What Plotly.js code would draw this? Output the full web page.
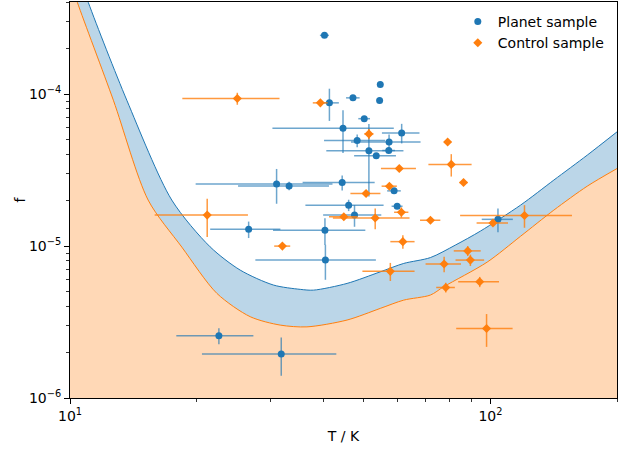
<!DOCTYPE html>
<html>
<head>
<meta charset="utf-8">
<script src="https://cdn.plot.ly/plotly-3.0.1.min.js"></script>
<style>html,body{margin:0;padding:0;background:#fff;}#chart{width:619px;height:449px;}</style>
</head>
<body>
<div id="chart"></div>
<script>
// Upper (planet) detection curve
const upperT = [10, 11.05, 13.65, 17.46, 21.54, 25.4, 30.48, 35.3, 37.96, 45.6, 54.7, 62.2, 71.96, 82.5, 94.7, 117.9, 141.5, 169.9, 200];
const upperF = [9.0e-4, 4.03e-4, 9.13e-5, 2.01e-5, 9.89e-6, 6.95e-6, 5.54e-6, 5.19e-6, 5.13e-6, 5.68e-6, 6.77e-6, 7.69e-6, 8.4e-6, 1.015e-5, 1.256e-5, 1.86e-5, 2.72e-5, 3.97e-5, 5.65e-5];
// Lower (control) curve
const lowerT = [10, 10.41, 12.68, 15.34, 18.45, 22.36, 26.83, 31.62, 36.6, 45.6, 54.7, 62.2, 71.96, 77.4, 98.2, 117.9, 141.5, 169.9, 200];
const lowerF = [5.7e-4, 4.03e-4, 9.13e-5, 2.01e-5, 9.85e-6, 4.88e-6, 3.43e-6, 3.02e-6, 2.94e-6, 3.26e-6, 3.89e-6, 4.41e-6, 4.76e-6, 5.40e-6, 7.84e-6, 1.16e-5, 1.725e-5, 2.48e-5, 3.24e-5];

// Planet sample
const planetT   = [40.3, 54.7, 54.5, 47.1, 41.4, 50.1, 44.6, 61.5, 48.2, 57.4, 51.4, 57.3, 53.5, 31.0, 33.2, 44.4, 59.0, 46.0, 60.0, 47.5, 26.6, 40.4, 40.5, 104.2, 22.6, 31.8];
const planetTerr= [1.0, 0, 0, 1.75, 2.2, 1.6, 14.3, 6.3, 8.0, 10.8, 10.7, 2.0, 6.1, 11.1, 8.1, 8.65, 2.2, 9.7, 1.8, 7.5, 5.05, 10.0, 12.9, 8.85, 4.7, 11.2];
const planetF   = [2.44e-4, 1.16e-4, 9.1e-5, 9.46e-5, 8.77e-5, 6.9e-5, 5.97e-5, 5.56e-5, 4.95e-5, 4.85e-5, 4.24e-5, 4.26e-5, 3.93e-5, 2.56e-5, 2.49e-5, 2.62e-5, 2.31e-5, 1.86e-5, 1.83e-5, 1.60e-5, 1.29e-5, 1.27e-5, 8.1e-6, 1.5e-5, 2.57e-6, 1.95e-6];
const planetFerr= [0, 0, 0, 0, 2.1e-5, 0, 1.87e-5, 0.82e-5, 0.47e-5, 0.58e-5, 2.12e-5, 0, 0, 0.66e-5, 0.16e-5, 0.3e-5, 0, 0.16e-5, 0, 0.26e-5, 0.16e-5, 0.255e-5, 2.1e-6, 0.265e-5, 0.31e-6, 0.55e-6];

// Control sample
const controlT   = [25.0, 21.2, 32.0, 39.4, 51.4, 79.1, 80.7, 60.7, 86.3, 57.5, 50.6, 61.4, 44.8, 53.2, 72.0, 101.4, 120.5, 61.9, 88.3, 89.6, 77.6, 57.8, 94.3, 78.3, 97.9];
const controlTerr= [6.5, 5.3, 1.4, 1.6, 1.3, 0, 9.5, 5.8, 1.9, 2.4, 4.15, 2.4, 3.5, 11.0, 4.0, 8.7, 35.8, 4.1, 6.5, 7.0, 7.5, 8.2, 10.5, 4.0, 15.0];
const controlF   = [9.37e-5, 1.6e-5, 1.0e-5, 8.77e-5, 5.48e-5, 4.85e-5, 3.45e-5, 3.24e-5, 2.62e-5, 2.48e-5, 2.22e-5, 1.67e-5, 1.56e-5, 1.53e-5, 1.48e-5, 1.42e-5, 1.59e-5, 1.07e-5, 9.3e-6, 8.09e-6, 7.62e-6, 6.82e-6, 5.82e-6, 5.34e-6, 2.87e-6];
const controlFerr= [0.85e-5, 0.45e-5, 0, 0, 0.43e-5, 0, 0.58e-5, 0, 0, 0, 0, 0.13e-5, 0, 0.24e-5, 0, 0, 0.27e-5, 0.11e-5, 0.07e-5, 0.07e-5, 0.09e-5, 0.93e-6, 0.45e-6, 0.4e-6, 0.7e-6];

const xTickVals = [10, 100];
const xTickText = ['10<sup>1</sup>', '10<sup>2</sup>'];
const xMinorVals = [20, 30, 40, 50, 60, 70, 80, 90, 200];
const yTickVals = [1e-6, 1e-5, 1e-4];
const yTickText = ['10<sup>\u22126</sup>', '10<sup>\u22125</sup>', '10<sup>\u22124</sup>'];
const yMinorVals = [2e-6,3e-6,4e-6,5e-6,6e-6,7e-6,8e-6,9e-6,2e-5,3e-5,4e-5,5e-5,6e-5,7e-5,8e-5,9e-5,2e-4,3e-4,4e-4];

const BLUE = '#1f77b4', ORANGE = '#ff7f0e';

const traces = [
  {x: lowerT, y: lowerF, type: 'scatter', mode: 'lines', line: {color: ORANGE, width: 1, shape: 'spline', smoothing: 0.8},
   fill: 'tozeroy', fillcolor: 'rgba(255,127,14,0.3)', showlegend: false, hoverinfo: 'skip'},
  {x: upperT, y: upperF, type: 'scatter', mode: 'lines', line: {color: BLUE, width: 1, shape: 'spline', smoothing: 0.8},
   fill: 'tonexty', fillcolor: 'rgba(31,119,180,0.3)', showlegend: false, hoverinfo: 'skip'},
  {x: planetT, y: planetF, type: 'scatter', mode: 'markers', name: 'Planet sample',
   marker: {color: BLUE, size: 7, symbol: 'circle'},
   error_x: {type: 'data', array: planetTerr, color: 'rgba(31,119,180,0.65)', thickness: 1.5, width: 0},
   error_y: {type: 'data', array: planetFerr, color: 'rgba(31,119,180,0.65)', thickness: 1.5, width: 0}},
  {x: controlT, y: controlF, type: 'scatter', mode: 'markers', name: 'Control sample',
   marker: {color: ORANGE, size: 7, symbol: 'diamond'},
   error_x: {type: 'data', array: controlTerr, color: 'rgba(255,127,14,0.8)', thickness: 1.5, width: 0},
   error_y: {type: 'data', array: controlFerr, color: 'rgba(255,127,14,0.8)', thickness: 1.5, width: 0}}
];

const axisFont = {family: 'DejaVu Sans', size: 14, color: '#000'};
const layout = {
  width: 619, height: 449,
  margin: {l: 70, r: 2, t: 2, b: 51},
  paper_bgcolor: '#fff', plot_bgcolor: '#fff',
  font: axisFont,
  showlegend: true,
  legend: {x: 0.985, xanchor: 'right', y: 0.99, yanchor: 'top', bgcolor: 'rgba(0,0,0,0)',
           font: axisFont, itemwidth: 30, traceorder: 'normal'},
  xaxis: {type: 'log', range: [1, Math.log10(200)], tickmode: 'array', tickvals: xTickVals, ticktext: xTickText,
          ticks: 'outside', ticklen: 5, tickwidth: 1, tickcolor: '#000', showgrid: false, zeroline: false,
          showline: true, linecolor: '#000', linewidth: 1, mirror: true,
          minor: {tickmode: 'array', tickvals: xMinorVals, ticks: 'outside', ticklen: 3, tickwidth: 0.8, tickcolor: '#000', showgrid: false},
          title: {text: 'T / K', font: axisFont, standoff: 8}, tickfont: axisFont},
  yaxis: {type: 'log', range: [-6, -3.393], tickmode: 'array', tickvals: yTickVals, ticktext: yTickText,
          ticks: 'outside', ticklen: 5, tickwidth: 1, tickcolor: '#000', showgrid: false, zeroline: false,
          showline: true, linecolor: '#000', linewidth: 1, mirror: true,
          minor: {tickmode: 'array', tickvals: yMinorVals, ticks: 'outside', ticklen: 3, tickwidth: 0.8, tickcolor: '#000', showgrid: false},
          title: {text: 'f', font: axisFont, standoff: 0}, tickfont: axisFont}
};

Plotly.newPlot('chart', traces, layout, {displayModeBar: false, staticPlot: true});
</script>
</body>
</html>
